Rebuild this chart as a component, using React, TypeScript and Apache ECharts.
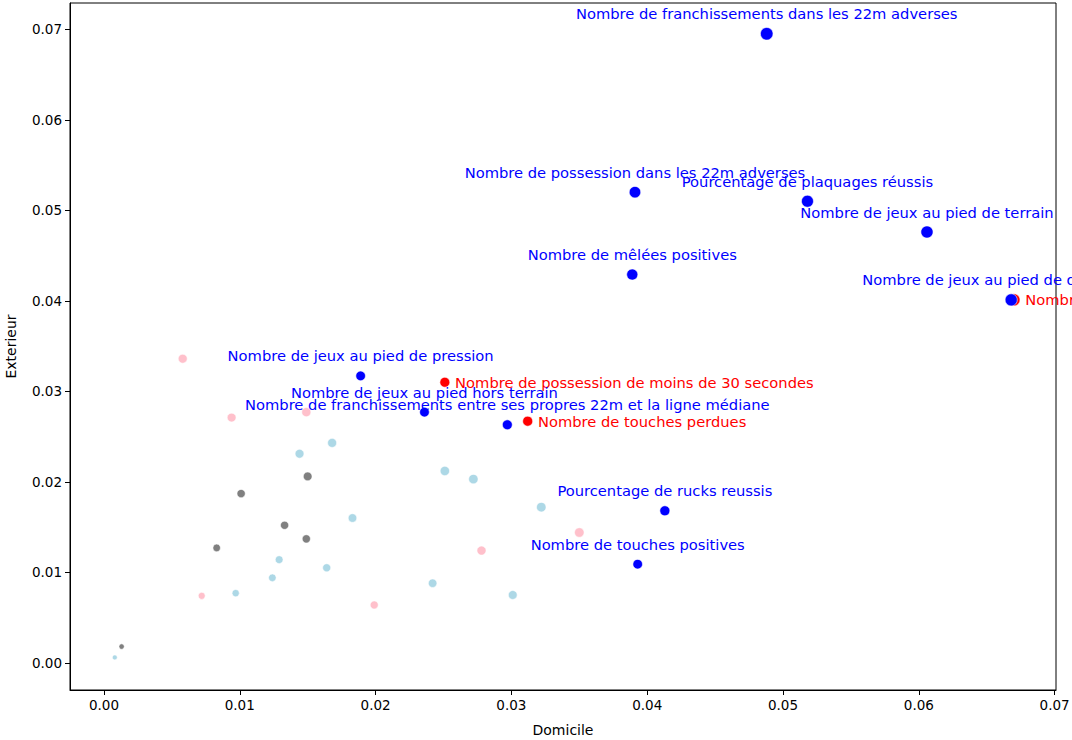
import React, { useEffect, useRef } from "react";
import * as echarts from "echarts";

const xTicks = [0, 0.01, 0.02, 0.03, 0.04, 0.05, 0.06, 0.07];
const yTicks = [0, 0.01, 0.02, 0.03, 0.04, 0.05, 0.06, 0.07];

const blueNames = [
  "Nombre de franchissements dans les 22m adverses",
  "Nombre de possession dans les 22m adverses",
  "Pourcentage de plaquages réussis",
  "Nombre de jeux au pied de terrain",
  "Nombre de mêlées positives",
  "Nombre de jeux au pied de dégagement",
  "Nombre de jeux au pied de pression",
  "Nombre de jeux au pied hors terrain",
  "Nombre de franchissements entre ses propres 22m et la ligne médiane",
  "Pourcentage de rucks reussis",
  "Nombre de touches positives",
];
const blueX = [0.0488, 0.0391, 0.0518, 0.0606, 0.0389, 0.0668, 0.0189, 0.0236, 0.0297, 0.0413, 0.0393];
const blueY = [0.0695, 0.052, 0.051, 0.0476, 0.0429, 0.0401, 0.0317, 0.0277, 0.0263, 0.0168, 0.0109];

const redNames = [
  "Nombre de possession de moins de 30 secondes",
  "Nombre de touches perdues",
  "Nombre de pénalités concédées",
];
const redX = [0.0251, 0.0312, 0.067];
const redY = [0.031, 0.0267, 0.0401];

const pinkX = [0.0058, 0.0094, 0.0149, 0.0072, 0.0199, 0.0278, 0.035];
const pinkY = [0.0336, 0.0271, 0.0277, 0.0074, 0.0064, 0.0124, 0.0144];

const lightBlueX = [0.0144, 0.0168, 0.0183, 0.0129, 0.0124, 0.0164, 0.0097, 0.0008, 0.0251, 0.0272, 0.0242, 0.0301, 0.0322];
const lightBlueY = [0.0231, 0.0243, 0.016, 0.0114, 0.0094, 0.0105, 0.0077, 0.0006, 0.0212, 0.0203, 0.0088, 0.0075, 0.0172];

const greyX = [0.015, 0.0101, 0.0133, 0.0149, 0.0083, 0.0013];
const greyY = [0.0206, 0.0187, 0.0152, 0.0137, 0.0127, 0.0018];

const FONT = "DejaVu Sans";

const sizeFn = (v: number[]) => 4 + Math.sqrt(Math.max(0, v[0] + v[1])) * 25;

const pts = (xs: number[], ys: number[]) => xs.map((x, i) => [x, ys[i]]);

export default function App() {
  const ref = useRef<HTMLDivElement>(null);
  useEffect(() => {
    if (!ref.current) return;
    const chart = echarts.init(ref.current, undefined, { renderer: "svg" });
    const itemBase = { borderColor: "#ffffff", borderWidth: 0.6, opacity: 1 };
    const plain = (name: string, xs: number[], ys: number[], color: string) => ({
      type: "scatter",
      name,
      data: pts(xs, ys),
      symbolSize: sizeFn,
      itemStyle: { ...itemBase, color },
      z: 2,
    });
    chart.setOption({
      animation: false,
      backgroundColor: "#ffffff",
      textStyle: { fontFamily: FONT },
      grid: {
        left: 70,
        top: 3,
        right: 16,
        bottom: 50,
        show: true,
        borderColor: "#000000",
        borderWidth: 1,
        backgroundColor: "transparent",
        outerBoundsMode: "none",
        containLabel: false,
      },
      xAxis: {
        type: "value",
        min: -0.0025,
        max: 0.0701,
        name: "Domicile",
        nameLocation: "middle",
        nameGap: 33,
        nameTextStyle: { fontSize: 14, color: "#000", fontFamily: FONT },
        axisLine: { show: true, onZero: false, lineStyle: { color: "#000" } },
        axisTick: { show: true, inside: false, length: 5, customValues: xTicks, lineStyle: { color: "#000" } },
        axisLabel: {
          customValues: xTicks,
          formatter: (v: number) => v.toFixed(2),
          fontSize: 13.5,
          color: "#000",
          margin: 8,
          fontFamily: FONT,
        },
        splitLine: { show: false },
      },
      yAxis: {
        type: "value",
        min: -0.003,
        max: 0.0729,
        name: "Exterieur",
        nameLocation: "middle",
        nameGap: 52,
        nameTextStyle: { fontSize: 14, color: "#000", fontFamily: FONT },
        axisLine: { show: true, onZero: false, lineStyle: { color: "#000" } },
        axisTick: { show: true, inside: false, length: 5, customValues: yTicks, lineStyle: { color: "#000" } },
        axisLabel: {
          customValues: yTicks,
          formatter: (v: number) => v.toFixed(2),
          fontSize: 13.5,
          color: "#000",
          margin: 8,
          fontFamily: FONT,
        },
        splitLine: { show: false },
      },
      series: [
        plain("pink", pinkX, pinkY, "#ffc0cb"),
        plain("lightblue", lightBlueX, lightBlueY, "#add8e6"),
        plain("grey", greyX, greyY, "#808080"),
        {
          type: "scatter",
          name: "red",
          symbolSize: sizeFn,
          itemStyle: { ...itemBase, color: "#ff0000" },
          z: 3,
          data: redNames.map((n, i) => ({
            name: n,
            value: [redX[i], redY[i]],
            label: {
              show: true,
              position: "right",
              distance: 5,
              formatter: n,
              color: "#ff0000",
              fontSize: 14.7,
              fontFamily: FONT,
            },
          })),
        },
        {
          type: "scatter",
          name: "blue",
          symbolSize: sizeFn,
          itemStyle: { ...itemBase, color: "#0000ff" },
          z: 4,
          data: blueNames.map((n, i) => ({
            name: n,
            value: [blueX[i], blueY[i]],
            label: {
              show: true,
              position: "inside",
              offset: [0, -20],
              formatter: n,
              color: "#0000ff",
              fontSize: 14.7,
              fontFamily: FONT,
            },
          })),
        },
      ],
    });
    return () => chart.dispose();
  }, []);
  return (
    <div
      ref={ref}
      style={{ position: "fixed", left: 0, top: 0, width: 1072, height: 740, background: "#fff" }}
    />
  );
}
